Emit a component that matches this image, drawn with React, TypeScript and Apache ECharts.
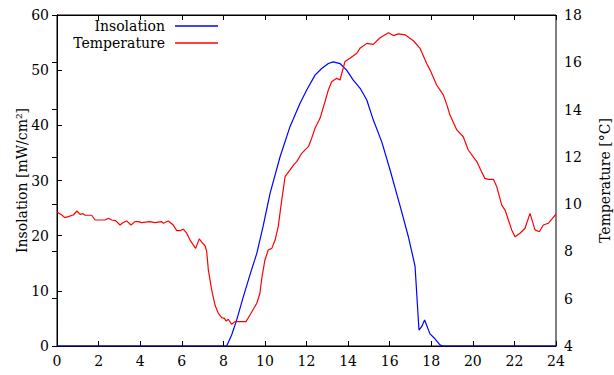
import React, { useEffect, useRef } from "react";
import * as echarts from "echarts";

const hourTicks = [0, 2, 4, 6, 8, 10, 12, 14, 16, 18, 20, 22, 24];

const insolationHours = [0, 8.16, 8.4, 8.64, 8.96, 9.28, 9.61, 9.92, 10.25, 10.73, 11.21, 11.69, 12.01, 12.41, 12.73, 13.05, 13.29, 13.61, 13.93, 14.25, 14.6, 14.9, 15.21, 15.62, 16.02, 16.5, 16.9, 17.22, 17.41, 17.54, 17.68, 17.94, 18.13, 18.42, 18.57, 24];
const insolationValues = [0, 0, 2.0, 4.7, 8.9, 12.9, 16.8, 21.8, 27.7, 34.3, 39.8, 44.0, 46.4, 49.1, 50.3, 51.2, 51.5, 51.2, 50.0, 48.2, 46.6, 44.6, 41.0, 37.0, 31.9, 25.4, 19.8, 14.5, 2.9, 3.5, 4.7, 2.2, 1.5, 0.2, 0, 0];

const temperatureHours = [0, 0.23, 0.38, 0.54, 0.78, 0.96, 1.11, 1.25, 1.35, 1.67, 1.83, 2.31, 2.47, 2.63, 2.82, 3.03, 3.19, 3.35, 3.56, 3.75, 3.91, 4.07, 4.47, 4.71, 5.04, 5.11, 5.35, 5.59, 5.76, 5.92, 6.07, 6.24, 6.4, 6.56, 6.67, 6.84, 6.96, 7.13, 7.2, 7.28, 7.44, 7.6, 7.76, 7.92, 8.05, 8.13, 8.24, 8.4, 8.56, 9.09, 9.28, 9.61, 9.76, 9.85, 10.0, 10.16, 10.33, 10.49, 10.64, 10.81, 10.97, 11.21, 11.38, 11.53, 11.77, 12.09, 12.25, 12.41, 12.65, 12.89, 13.05, 13.21, 13.45, 13.61, 13.85, 14.09, 14.42, 14.57, 14.9, 15.21, 15.54, 15.94, 16.18, 16.42, 16.74, 17.14, 17.46, 17.78, 17.94, 18.26, 18.58, 18.75, 18.9, 19.23, 19.38, 19.54, 19.78, 20.19, 20.42, 20.58, 20.75, 20.99, 21.15, 21.39, 21.55, 21.71, 21.87, 22.03, 22.27, 22.51, 22.75, 22.99, 23.2, 23.39, 23.63, 24];
const temperatureValues = [9.67, 9.54, 9.43, 9.47, 9.54, 9.71, 9.57, 9.6, 9.53, 9.53, 9.33, 9.33, 9.4, 9.33, 9.3, 9.12, 9.22, 9.29, 9.12, 9.26, 9.26, 9.22, 9.26, 9.22, 9.26, 9.19, 9.29, 9.12, 8.88, 8.88, 8.94, 8.77, 8.48, 8.27, 8.13, 8.53, 8.39, 8.23, 7.99, 7.21, 6.37, 5.73, 5.38, 5.2, 5.17, 5.06, 5.13, 4.92, 5.03, 5.03, 5.31, 5.81, 6.23, 6.86, 7.64, 8.06, 8.13, 8.48, 9.05, 10.18, 11.16, 11.45, 11.66, 11.8, 12.15, 12.43, 12.79, 13.21, 13.63, 14.33, 14.83, 15.18, 15.32, 15.25, 16.03, 16.17, 16.38, 16.59, 16.8, 16.76, 17.04, 17.25, 17.13, 17.2, 17.16, 16.91, 16.59, 15.95, 15.68, 15.04, 14.62, 14.2, 13.77, 13.14, 13.0, 12.85, 12.29, 11.8, 11.37, 11.09, 11.05, 11.05, 10.74, 9.96, 9.75, 9.33, 8.91, 8.62, 8.77, 8.98, 9.61, 8.91, 8.83, 9.12, 9.19, 9.58];

const FONT = "'DejaVu Serif', 'Liberation Serif', serif";

export default function App() {
  const ref = useRef<HTMLDivElement>(null);
  useEffect(() => {
    if (!ref.current) return;
    const chart = echarts.init(ref.current, null, { renderer: "svg" });
    const insolation = insolationHours.map((h, i) => [h, insolationValues[i]]);
    const temperature = temperatureHours.map((h, i) => [h, temperatureValues[i]]);
    const txt = { fontFamily: FONT, fontSize: 14, color: "#000" };
    chart.setOption({
      animation: false,
      backgroundColor: "#fff",
      grid: {
        left: 57, right: 58, top: 15, bottom: 29, show: true, borderColor: "#000", borderWidth: 1,
        backgroundColor: "transparent", outerBoundsMode: "none", containLabel: false,
      },
      legend: [
        {
          data: ["Insolation"], right: 391, top: 14, align: "right", icon: "rect", itemWidth: 43, itemHeight: 1.5,
          textStyle: { ...txt, padding: [0, 5, 0, 0] }, selectedMode: false,
        },
        {
          data: ["Temperature"], right: 391, top: 31, align: "right", icon: "rect", itemWidth: 43, itemHeight: 1.5,
          textStyle: { ...txt, padding: [0, 5, 0, 0] }, selectedMode: false,
        },
      ],
      xAxis: [
        {
          type: "value", min: 0, max: 24, interval: 2, position: "bottom",
          axisLine: { show: true, lineStyle: { color: "#000" } },
          axisTick: { inside: true, length: 5, lineStyle: { color: "#000" } },
          axisLabel: { ...txt, margin: 8, customValues: hourTicks },
          splitLine: { show: false },
        },
        {
          type: "value", min: 0, max: 24, interval: 2, position: "top",
          axisLine: { show: true, lineStyle: { color: "#000" } },
          axisTick: { inside: true, length: 5, lineStyle: { color: "#000" } },
          axisLabel: { show: false },
          splitLine: { show: false },
        },
      ],
      yAxis: [
        {
          type: "value", min: 0, max: 60, interval: 10, position: "left",
          name: "Insolation [mW/cm²]", nameLocation: "middle", nameGap: 28, nameMoveOverlap: false,
          nameTextStyle: { ...txt },
          axisLine: { show: true, lineStyle: { color: "#000" } },
          axisTick: { inside: true, length: 5, lineStyle: { color: "#000" } },
          axisLabel: { ...txt, margin: 8 },
          splitLine: { show: false },
        },
        {
          type: "value", min: 4, max: 18, interval: 2, position: "right",
          name: "Temperature [°C]", nameLocation: "middle", nameGap: 42, nameRotate: 90, nameMoveOverlap: false,
          nameTextStyle: { ...txt },
          axisLine: { show: true, lineStyle: { color: "#000" } },
          axisTick: { inside: true, length: 5, lineStyle: { color: "#000" } },
          axisLabel: { ...txt, margin: 8 },
          splitLine: { show: false },
        },
      ],
      series: [
        {
          name: "Insolation", type: "line", data: insolation, xAxisIndex: 0, yAxisIndex: 0,
          showSymbol: false, symbol: "none", color: "#0000ff", lineStyle: { width: 1.2, color: "#0000ff" },
        },
        {
          name: "Temperature", type: "line", data: temperature, xAxisIndex: 0, yAxisIndex: 1,
          showSymbol: false, symbol: "none", color: "#ff0000", lineStyle: { width: 1.2, color: "#ff0000" },
        },
      ],
    });
    return () => chart.dispose();
  }, []);
  return <div ref={ref} style={{ width: 614, height: 375, position: "absolute", left: 0, top: 0 }} />;
}
